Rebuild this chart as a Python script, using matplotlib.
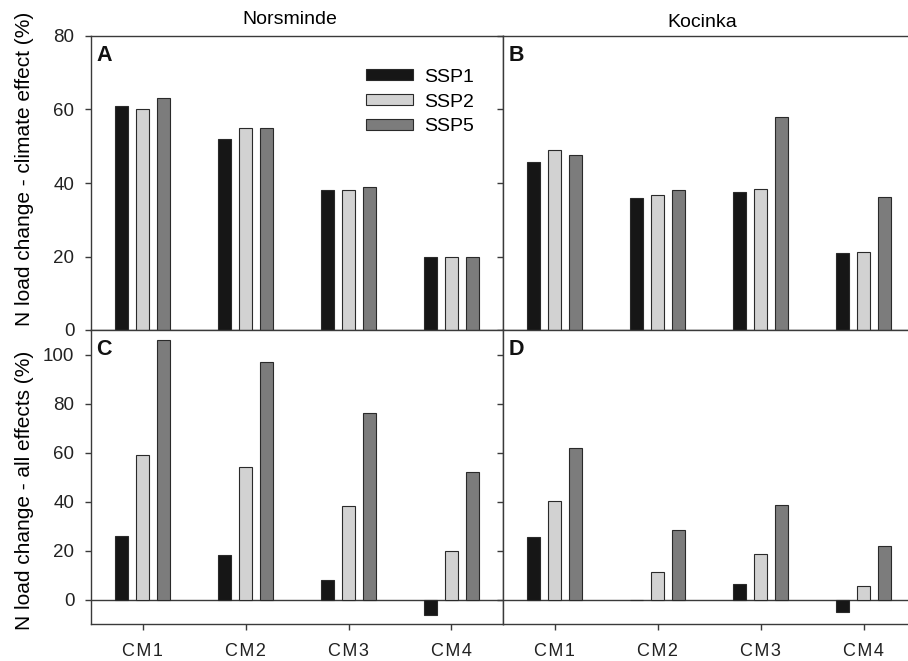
import numpy as np
import matplotlib.pyplot as plt

plt.rcParams['font.family'] = ['Liberation Sans', 'DejaVu Sans']

# categories and series
models = ['CM1', 'CM2', 'CM3', 'CM4']
scenarios = ['SSP1', 'SSP2', 'SSP5']
colors = ['#161616', '#d2d2d2', '#7c7c7c']

# climate effect only (%)
norsminde_climate = [[61, 52, 38, 20],
                     [60, 55, 38, 20],
                     [63, 55, 39, 20]]
kocinka_climate = [[45.8, 36.0, 37.6, 20.9],
                   [48.9, 36.8, 38.4, 21.2],
                   [47.5, 38.0, 57.9, 36.1]]

# all effects (%)
norsminde_all = [[26, 18, 8, -6.3],
                 [59, 54, 38, 20],
                 [106, 97, 76, 52]]
kocinka_all = [[25.7, -0.2, 6.5, -5.2],
               [40.3, 11.2, 18.7, 5.6],
               [62, 28.5, 38.7, 21.7]]


def draw_bars(ax, data):
    x = np.arange(len(models))
    for i, vals in enumerate(data):
        ax.bar(x + (i - 1) * 0.2, vals, width=0.127, color=colors[i],
               edgecolor='#2a2a2a', linewidth=0.8, label=scenarios[i], zorder=3)
    ax.set_xlim(-0.5, 3.5)
    ax.set_xticks(x)
    for s in ax.spines.values():
        s.set_color('#3a3a3a')
        s.set_linewidth(1.0)
    ax.tick_params(direction='out', length=4, width=1, color='#3a3a3a',
                   labelsize=13.5, colors='#222222')
    ax.tick_params(axis='y', pad=8)
    ax.tick_params(axis='x', pad=10, labelsize=13)


W, H = 908, 661
fig = plt.figure(figsize=(W / 100, H / 100), dpi=100)

pw, ph = 412 / W, 294 / H
x0, x1 = 91 / W, 503 / W
ytop, ybot = 331 / H, 37 / H

axA = fig.add_axes([x0, ytop, pw, ph])
axB = fig.add_axes([x1, ytop, pw, ph])
axC = fig.add_axes([x0, ybot, pw, ph])
axD = fig.add_axes([x1, ybot, pw, ph])

for ax, data in [(axA, norsminde_climate), (axB, kocinka_climate),
                 (axC, norsminde_all), (axD, kocinka_all)]:
    draw_bars(ax, data)

# spaced-out category labels like the original
spaced = ['\u200a'.join(m) for m in models]

for ax in (axA, axB):
    ax.set_ylim(0, 80)
    ax.set_yticks([0, 20, 40, 60, 80])
    ax.set_xticklabels([])
for ax in (axC, axD):
    ax.set_ylim(-10, 110)
    ax.set_yticks([0, 20, 40, 60, 80, 100])
    ax.axhline(0, color='#3a3a3a', linewidth=1.0, zorder=2)
    ax.set_xticklabels(spaced)
for ax in (axB, axD):
    ax.set_yticklabels([])

for ax, letter in [(axA, 'A'), (axB, 'B'), (axC, 'C'), (axD, 'D')]:
    ax.text(0.013, 0.968, letter, transform=ax.transAxes, fontsize=15.5,
            fontweight='bold', va='top', ha='left', color='#111111')

axA.legend(loc='upper left', bbox_to_anchor=(0.649, 0.915), frameon=False,
           fontsize=14, handlelength=2.42, handleheight=0.48,
           labelspacing=0.4, handletextpad=0.57, borderaxespad=0)

fig.text(290 / W, 1 - 20 / H, 'Norsminde', ha='center', va='center', fontsize=14)
fig.text(702 / W, 1 - 22.5 / H, 'Kocinka', ha='center', va='center', fontsize=14)

fig.text(25 / W, 1 - 169 / H, 'N load change - climate effect (%)',
         rotation=90, ha='center', va='center', fontsize=15)
fig.text(25 / W, 1 - 490 / H, 'N load change - all effects (%)',
         rotation=90, ha='center', va='center', fontsize=15)

fig.savefig('out.png', dpi=100)
